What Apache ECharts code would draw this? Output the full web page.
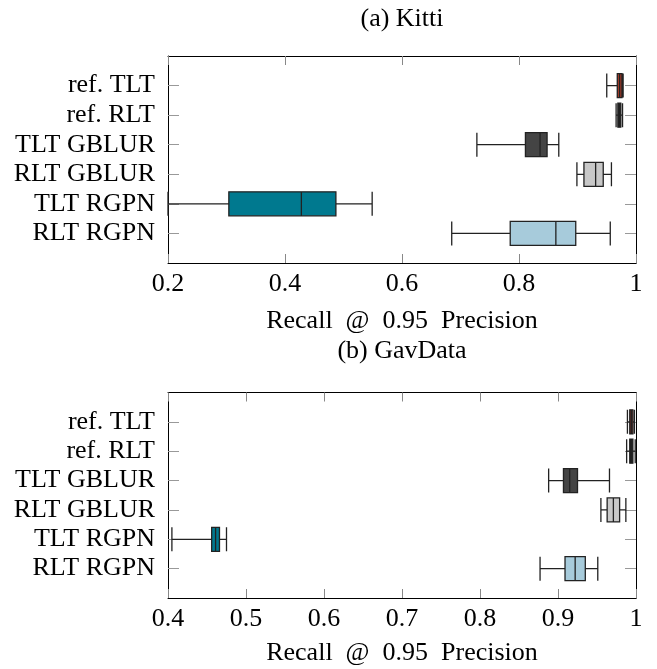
<!DOCTYPE html>
<html>
<head>
<meta charset="utf-8">
<script src="https://cdn.jsdelivr.net/npm/echarts@6/dist/echarts.min.js"></script>
<style>
  html, body { margin: 0; padding: 0; background: #fff; }
  #chart { width: 657px; height: 669px; }
</style>
</head>
<body>
<div id="chart"></div>
<script>
// categories, top to bottom
const categories = ['ref. TLT', 'ref. RLT', 'TLT GBLUR', 'RLT GBLUR', 'TLT RGPN', 'RLT RGPN']

// [min, Q1, median, Q3, max]
const kittiStats = [
  [0.950, 0.968, 0.972, 0.976, 0.978],
  [0.966, 0.969, 0.971, 0.974, 0.977],
  [0.728, 0.811, 0.836, 0.848, 0.868],
  [0.899, 0.911, 0.931, 0.944, 0.958],
  [0.200, 0.304, 0.428, 0.487, 0.549],
  [0.685, 0.785, 0.863, 0.897, 0.956]
]
const gavStats = [
  [0.989, 0.992, 0.994, 0.996, 0.998],
  [0.988, 0.992, 0.994, 0.996, 0.999],
  [0.888, 0.907, 0.915, 0.925, 0.966],
  [0.955, 0.963, 0.971, 0.979, 0.987],
  [0.405, 0.456, 0.461, 0.466, 0.475],
  [0.877, 0.909, 0.922, 0.935, 0.951]
]
// x axis ticks: [min, max, step]
const kittiTicks = [0.2, 1, 0.2]
const gavTicks = [0.4, 1, 0.1]

const fills = ['#a33a28', '#1a1a1a', '#444444', '#c8c8c8', '#00798f', '#a7cbdb']

const font = "'Liberation Serif', 'DejaVu Serif', serif"
const positions = categories.map((c, i) => i + 1)

function boxData (stats) {
  return stats.map((s, i) => ({
    value: [positions[i]].concat(s),
    itemStyle: { color: fills[i], borderColor: '#222', borderWidth: 1.3 }
  }))
}

function xAxes (gridIndex, ticks) {
  const common = {
    type: 'value', gridIndex, min: ticks[0], max: ticks[1], interval: ticks[2],
    splitLine: { show: false },
    axisLine: { show: true, onZero: false, lineStyle: { color: '#000', width: 1 } },
    axisTick: { show: true, inside: true, length: 9, lineStyle: { color: '#888' } }
  }
  return [
    Object.assign({}, common, {
      position: 'bottom',
      name: 'Recall  @  0.95  Precision',
      nameLocation: 'middle',
      nameGap: gridIndex === 0 ? 45 : 42,
      nameTextStyle: { fontFamily: font, fontSize: 26, color: '#000' },
      axisLabel: { fontFamily: font, fontSize: 26, color: '#000', margin: 8 }
    }),
    Object.assign({}, common, { position: 'top', axisLabel: { show: false } })
  ]
}

function yAxes (gridIndex) {
  const common = {
    type: 'value', gridIndex, min: 0, max: categories.length + 1, inverse: true,
    splitLine: { show: false },
    axisLine: { show: true, onZero: false, lineStyle: { color: '#000', width: 1 } },
    axisTick: { show: true, inside: true, length: 11, customValues: positions, lineStyle: { color: '#999' } }
  }
  return [
    Object.assign({}, common, {
      position: 'left',
      axisLabel: {
        customValues: positions,
        formatter: v => categories[v - 1] || '',
        fontFamily: font, fontSize: 26, color: '#000', margin: 13
      }
    }),
    Object.assign({}, common, { position: 'right', axisLabel: { show: false } })
  ]
}

const myChart = echarts.init(document.getElementById('chart'))
myChart.setOption({
  animation: false,
  graphic: [
    { type: 'text', x: 402, y: 19, style: { text: '(a) Kitti', font: '26px ' + font, fill: '#000', textAlign: 'center', textVerticalAlign: 'middle' } },
    { type: 'text', x: 402, y: 351, style: { text: '(b) GavData', font: '26px ' + font, fill: '#000', textAlign: 'center', textVerticalAlign: 'middle' } }
  ],
  grid: [
    { left: 168, top: 56, width: 468, height: 207, outerBoundsMode: 'none', containLabel: false },
    { left: 168, top: 392.5, width: 468, height: 205.5, outerBoundsMode: 'none', containLabel: false }
  ],
  xAxis: xAxes(0, kittiTicks).concat(xAxes(1, gavTicks)),
  yAxis: yAxes(0).concat(yAxes(1)),
  series: [
    {
      name: 'Kitti', type: 'boxplot', layout: 'vertical',
      xAxisIndex: 0, yAxisIndex: 0, boxWidth: [24, 24],
      data: boxData(kittiStats)
    },
    {
      name: 'GavData', type: 'boxplot', layout: 'vertical',
      xAxisIndex: 2, yAxisIndex: 2, boxWidth: [24, 24],
      data: boxData(gavStats)
    }
  ]
})
</script>
</body>
</html>
